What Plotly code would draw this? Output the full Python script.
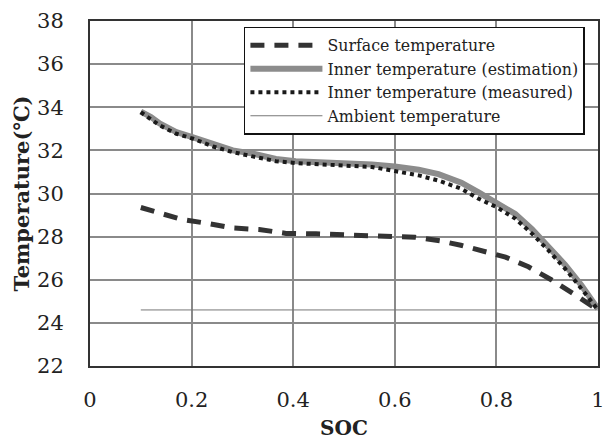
import plotly.graph_objects as go

# State of charge (x) and temperatures in °C (y)
soc_surface = [0.10, 0.14, 0.18, 0.235, 0.28, 0.333, 0.386, 0.445, 0.49, 0.536, 0.60,
               0.64, 0.69, 0.73, 0.77, 0.818, 0.863, 0.908, 0.955, 0.986, 1.0]
temp_surface = [29.35, 29.07, 28.8, 28.6, 28.4, 28.33, 28.15, 28.13, 28.1, 28.1, 28.0,
                27.97, 27.8, 27.6, 27.35, 27.05, 26.6, 26.0, 25.3, 24.85, 24.6]

soc_inner_est = [0.10, 0.12, 0.137, 0.17, 0.203, 0.242, 0.281, 0.32, 0.366, 0.405, 0.457,
                 0.49, 0.555, 0.60, 0.647, 0.686, 0.731, 0.765, 0.80, 0.837, 0.87,
                 0.902, 0.935, 0.967, 1.0]
temp_inner_est = [33.8, 33.55, 33.25, 32.85, 32.6, 32.3, 32.0, 31.85, 31.6, 31.5, 31.45,
                  31.45, 31.35, 31.25, 31.1, 30.9, 30.5, 30.05, 29.6, 29.05, 28.35,
                  27.55, 26.7, 25.75, 24.65]

soc_inner_meas = [0.10, 0.137, 0.17, 0.203, 0.242, 0.281, 0.32, 0.366, 0.405, 0.457,
                  0.49, 0.555, 0.60, 0.647, 0.686, 0.731, 0.765, 0.80, 0.837, 0.87,
                  0.902, 0.935, 0.967, 1.0]
temp_inner_meas = [33.77, 33.16, 32.77, 32.54, 32.18, 31.92, 31.72, 31.5, 31.41, 31.35,
                   31.35, 31.23, 31.04, 30.84, 30.6, 30.22, 29.76, 29.37, 28.84, 28.14,
                   27.37, 26.52, 25.6, 24.6]

soc_ambient = [0.10, 1.0]
temp_ambient = [24.6, 24.6]

x_ticks = [0, 0.2, 0.4, 0.6, 0.8, 1]
x_labels = ["0", "0.2", "0.4", "0.6", "0.8", "1"]
y_ticks = [22, 24, 26, 28, 30, 32, 34, 36, 38]

SERIF = "DejaVu Serif"
INK = "#222222"

fig = go.Figure()
fig.add_trace(go.Scatter(
    x=soc_surface, y=temp_surface, mode="lines", name="Surface temperature",
    line=dict(color="#333333", width=5, dash="14px,10px")))
fig.add_trace(go.Scatter(
    x=soc_inner_est, y=temp_inner_est, mode="lines", name="Inner temperature (estimation)",
    line=dict(color="#8c8c8c", width=6)))
fig.add_trace(go.Scatter(
    x=soc_inner_meas, y=temp_inner_meas, mode="lines", name="Inner temperature (measured)",
    line=dict(color="#1a1a1a", width=4, dash="4px,4px")))
fig.add_trace(go.Scatter(
    x=soc_ambient, y=temp_ambient, mode="lines", name="Ambient temperature",
    line=dict(color="#777777", width=1)))

fig.update_layout(
    width=605, height=440,
    margin=dict(l=90, r=7, t=21, b=74),
    paper_bgcolor="white", plot_bgcolor="white",
    font=dict(family=SERIF, color=INK),
    showlegend=True,
    legend=dict(
        x=0.303, y=0.983, xanchor="left", yanchor="top",
        bgcolor="white", bordercolor="#111111", borderwidth=1.5,
        font=dict(family=SERIF, size=15.8, color=INK),
        itemwidth=72, tracegroupgap=0,
    ),
    xaxis=dict(
        range=[0, 1], tickvals=x_ticks, ticktext=x_labels,
        showgrid=True, gridcolor="#8a8a8a", gridwidth=1.5,
        showline=True, linecolor="#333333", linewidth=2, mirror=True,
        ticks="outside", ticklen=14, tickcolor="rgba(0,0,0,0)",
        tickfont=dict(family=SERIF, size=21, color=INK),
        ticklabeloverflow="allow",
        zeroline=False, automargin=False,
        title=dict(text="<b>SOC</b>", font=dict(family=SERIF, size=20, color=INK),
                   standoff=12),
    ),
    yaxis=dict(
        range=[22, 38], tickvals=y_ticks,
        showgrid=True, gridcolor="#8a8a8a", gridwidth=1.5,
        showline=True, linecolor="#333333", linewidth=2, mirror=True,
        ticks="outside", ticklen=20, tickcolor="rgba(0,0,0,0)",
        tickfont=dict(family=SERIF, size=21, color=INK),
        ticklabeloverflow="allow",
        zeroline=False, automargin=False,
        title=dict(text="<b>Temperature(℃)</b>", font=dict(family=SERIF, size=21, color=INK),
                   standoff=2),
    ),
)

fig.write_html("out.html")
